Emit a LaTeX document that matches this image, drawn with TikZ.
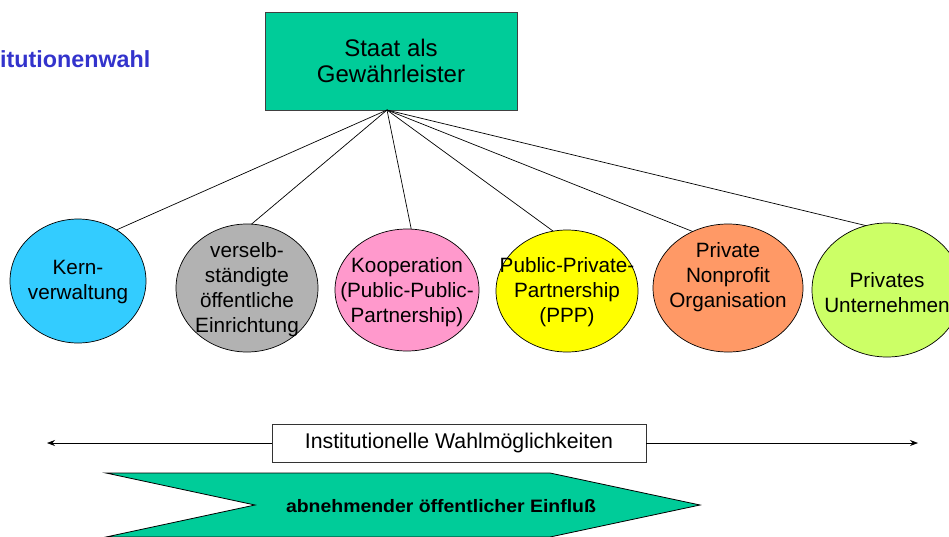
\documentclass[tikz,border=0pt]{standalone}
\usepackage{fontspec}
\setmainfont{Liberation Sans}
\usetikzlibrary{shapes.geometric,arrows.meta}
\definecolor{boxgreen}{HTML}{00CC99}
\definecolor{titleblue}{HTML}{3333CC}
\definecolor{ccyan}{HTML}{33CCFF}
\definecolor{cgrey}{HTML}{B2B2B2}
\definecolor{cpink}{HTML}{FF99CC}
\definecolor{cyellow}{HTML}{FFFF00}
\definecolor{corange}{HTML}{FF9966}
\definecolor{clime}{HTML}{CCFF66}
\begin{document}
\begin{tikzpicture}[x=1pt,y=-1pt,
  ell/.style={ellipse,draw=black,line width=0.7pt,inner sep=0pt,outer sep=0pt},
  lbl/.style={align=center,font=\fontsize{20.7}{25}\selectfont,inner sep=0pt},
  conn/.style={draw=black,line width=0.7pt}]
\useasboundingbox (0,0) rectangle (949,536);
\clip (0,0) rectangle (949,536);

% title
\node[anchor=base west, inner sep=0pt, font=\bfseries\fontsize{23.3}{23}\selectfont, text=titleblue] (title) at (0,67) {itutionenwahl};

% top box
\node[draw=black!75, line width=0.7pt, fill=boxgreen, minimum width=252pt, minimum height=98pt, inner sep=0pt, align=center, font=\fontsize{24}{26}\selectfont] (staat) at (391,61) {Staat als\\Gewährleister};
\coordinate (apex) at (387,110);

% ellipses
\node[ell, fill=ccyan,   minimum width=136pt, minimum height=124pt] (k1) at (78,281) {};
\node[ell, fill=cgrey,   minimum width=142pt, minimum height=128pt] (k2) at (247,288) {};
\node[ell, fill=cpink,   minimum width=144pt, minimum height=122pt] (k3) at (407,290) {};
\node[ell, fill=cyellow, minimum width=142pt, minimum height=122pt] (k4) at (567,291) {};
\node[ell, fill=corange, minimum width=150pt, minimum height=128pt] (k5) at (728,288) {};
\node[ell, fill=clime,   minimum width=150pt, minimum height=134pt] (k6) at (887,290) {};

\node[lbl] (t1) at (78,282) {Kern-\\verwaltung};
\node[lbl] (t2) at (247,290) {verselb-\\ständigte\\öffentliche\\Einrichtung};
\node[lbl] (t3) at (407,292) {Kooperation\\(Public-Public-\\Partnership)};
\node[lbl] (t4) at (567,292) {Public-Private-\\Partnership\\(PPP)};
\node[lbl] (t5) at (728,277) {Private\\Nonprofit\\Organisation};
\node[lbl] (t6) at (887,293) {Privates\\Unternehmen};

% connectors
\draw[conn] (apex) -- (k1.53);
\draw[conn] (apex) -- (k2.86);
\draw[conn] (apex) -- (k3.86);
\draw[conn] (apex) -- (k4.103);
\draw[conn] (apex) -- (k5.122);
\draw[conn] (apex) -- (k6.108);

% bottom arrow with label box
\node[draw=black!80, line width=0.7pt, fill=white, minimum width=374pt, minimum height=38pt, inner sep=0pt, font=\fontsize{21.3}{24}\selectfont] (inst) at (459,443) {Institutionelle Wahlmöglichkeiten};
\coordinate (lt) at (47,443);
\coordinate (rt) at (918,443);
\draw[conn,-{Stealth[length=8pt,width=6pt]}] (inst.west) -- (lt);
\draw[conn,-{Stealth[length=8pt,width=6pt]}] (inst.east) -- (rt);

% chevron
\draw[fill=boxgreen, draw=black, line width=0.8pt] (106,473) -- (550,473) -- (700,505) -- (550,537) -- (106,537) -- (255,505) -- cycle;
\node[inner sep=0pt, font=\bfseries\fontsize{18}{18}\selectfont] (einfluss) at (441,506) {\scalebox{1.08}[1]{abnehmender öffentlicher Einfluß}};
\end{tikzpicture}
\end{document}
